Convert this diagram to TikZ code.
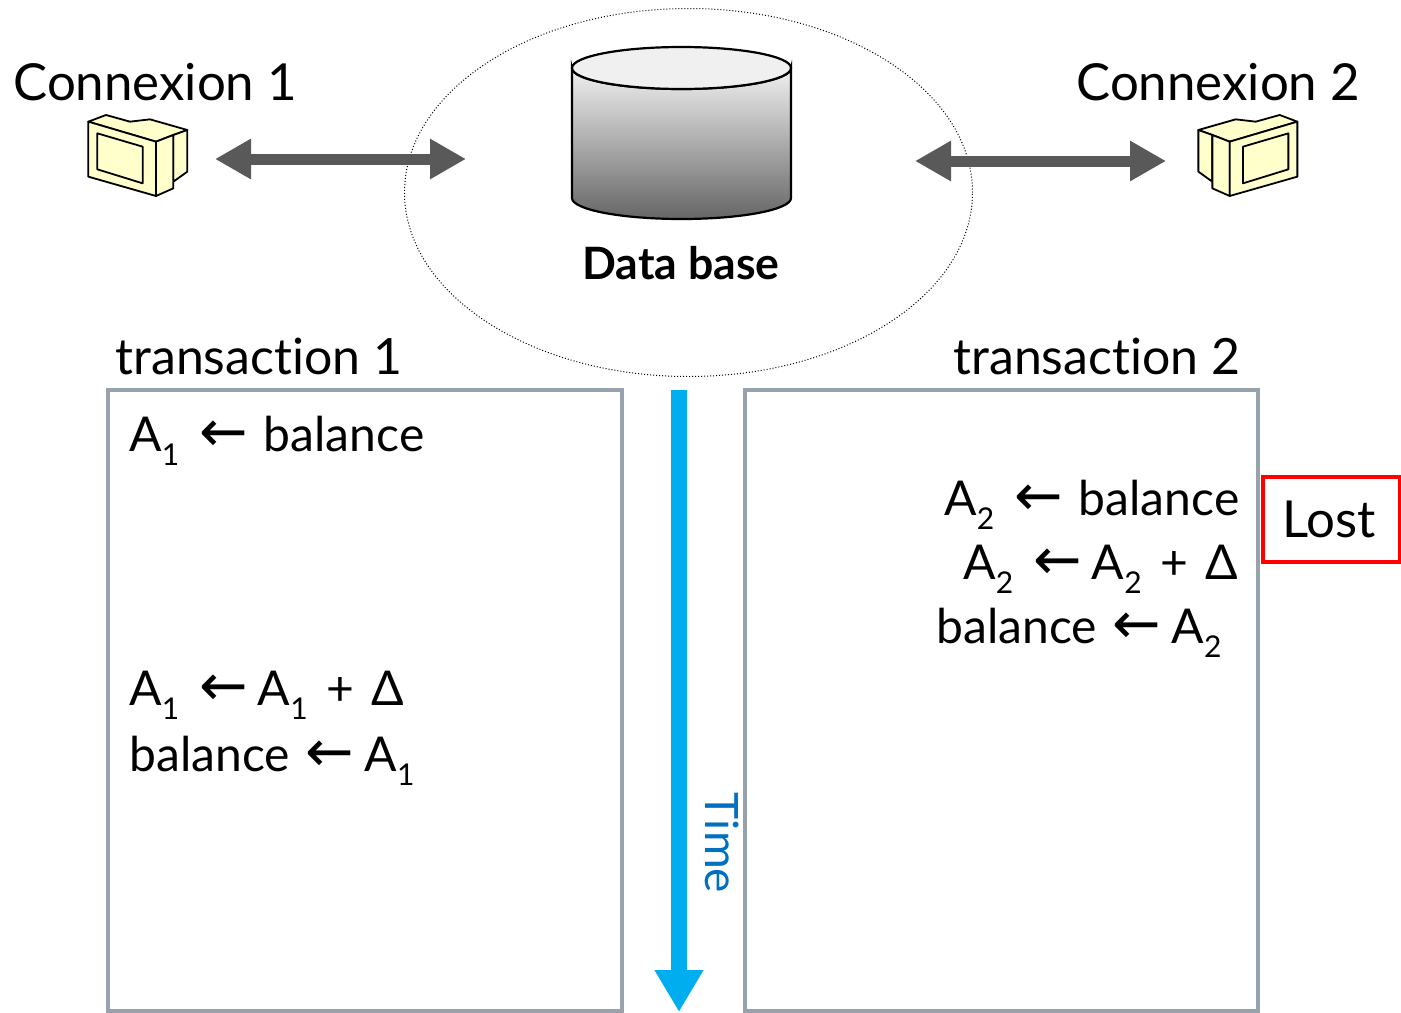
\documentclass[tikz,border=0pt]{standalone}
\usepackage{fontspec}
\setmainfont[Ligatures=CommonOff]{Lato}
\newfontfamily\nyilfont{DejaVu Sans}
\usetikzlibrary{arrows.meta}
\usetikzlibrary{shapes.geometric}
\definecolor{dobozszin}{HTML}{98A2AC}
\definecolor{nyilszin}{HTML}{595959}
\definecolor{idonyil}{HTML}{00AEEF}
\definecolor{idoszoveg}{HTML}{0070C0}
\definecolor{gepszin}{HTML}{FFFFCC}
\definecolor{hengerfent}{HTML}{F0F0F0}
\definecolor{hengerlent}{HTML}{666666}
\newcommand{\balra}[2]{\hspace{#1}{\nyilfont\fontsize{29}{28}\selectfont\char"2190}\hspace{#2}}
\newcommand{\als}[1]{\raisebox{-7pt}{\fontsize{15}{15}\selectfont #1}}
\newcommand{\monitor}[3]{
\begin{scope}[shift={(#1,#2)},xscale=#3/3,yscale=1/3,draw=black,line width=.9pt,line join=round,fill=gepszin]
\filldraw (310,105)--(352,90)--(240,58)--(180,65)--(108,45)--(55,65)--(258,125)--cycle;
\filldraw (310,105)--(352,90)--(352,215)--(310,245)--cycle;
\filldraw (258,125)--(310,105)--(310,265)--(258,288)--cycle;
\filldraw (55,65)--(258,125)--(258,288)--(55,230)--cycle;
\filldraw (82,100)--(218,140)--(218,250)--(82,208)--cycle;
\end{scope}
}
\tikzset{
sor/.style={anchor=base west,inner sep=0,font=\fontsize{24}{28}\selectfont},
cim/.style={anchor=base west,inner sep=0,font=\fontsize{25}{30}\selectfont},
doboz/.style={draw=dobozszin,line width=2pt},
kettos/.style={{Triangle[length=18pt,width=19pt]}-{Triangle[length=18pt,width=19pt]},draw=nyilszin,fill=nyilszin,line width=5.5pt},
}

\begin{document}
\begin{tikzpicture}[x=.5pt,y=-.5pt]
\useasboundingbox (0,0) rectangle (1401,1012);

\node[ellipse,draw,densely dotted,line width=.5pt,inner sep=0,minimum width=284pt,minimum height=184pt] (db) at (688.5,192.5){};

\draw[line width=1.1pt,top color=hengerfent,bottom color=hengerlent] (572,68)--(572,198) arc[start angle=180,end angle=0,x radius=109.5,y radius=21]--(791,68) arc[start angle=0,end angle=180,x radius=109.5,y radius=21]--cycle;
\draw[line width=1.1pt,fill=hengerfent] (681.5,68) ellipse[x radius=109.5,y radius=21];
\node[font=\fontsize{22.3}{26}\selectfont\bfseries,inner sep=0] (dbcim) at (681,263){Data base};

\monitor{70}{100}{1}
\monitor{1315.67}{100}{-1}

\node[cim,font=\fontsize{25.5}{30}\selectfont] (conn1) at (13,100){Connexion 1};
\node[cim,font=\fontsize{25.5}{30}\selectfont] (conn2) at (1076,100){Connexion 2};

\coordinate (n1a) at (215,159);
\coordinate (n1b) at (466,159);
\coordinate (n2a) at (915,161);
\coordinate (n2b) at (1166,161);
\draw[kettos] (n1a)--(n1b);
\draw[kettos] (n2a)--(n2b);

\node[cim] (tr1) at (115,374){transaction 1};
\node[cim] (tr2) at (953,374){transaction 2};

\draw[doboz] (108,390) rectangle (622,1011);
\draw[doboz] (745,390) rectangle (1258,1011);

\coordinate (ido1) at (679,390);
\coordinate (ido2) at (679,1012);
\draw[-{Triangle[length=21pt,width=23pt]},draw=idonyil,fill=idonyil,line width=8pt] (ido1)--(ido2);
\node[rotate=-90,text=idoszoveg,font=\fontsize{23}{28}\selectfont,inner sep=0] (ido) at (722,843){Time};

\node[sor] (a1) at (129,451){A\als{1}\balra{10pt}{8pt}balance};
\node[sor] (a2) at (129,705){A\als{1}\balra{10pt}{5pt}A\als{1}\hspace{3pt} + \hspace{2.5pt}Δ};
\node[sor] (a3) at (129,771){balance\balra{8pt}{5pt}A\als{1}};

\node[sor] (b1) at (944,515){A\als{2}\balra{10pt}{8pt}balance};
\node[sor] (b2) at (963,579){A\als{2}\balra{10pt}{5pt}A\als{2}\hspace{3pt} + \hspace{2.5pt}Δ};
\node[sor] (b3) at (936,643){balance\balra{8pt}{5pt}A\als{2}};

\node[draw=red,line width=2pt,inner sep=0,minimum width=68.5pt,minimum height=42.5pt,font=\fontsize{25.5}{28}\selectfont] (lost) at (1331,519){\raisebox{-1pt}{Lost\hspace{2pt}}};

\end{tikzpicture}
\end{document}
